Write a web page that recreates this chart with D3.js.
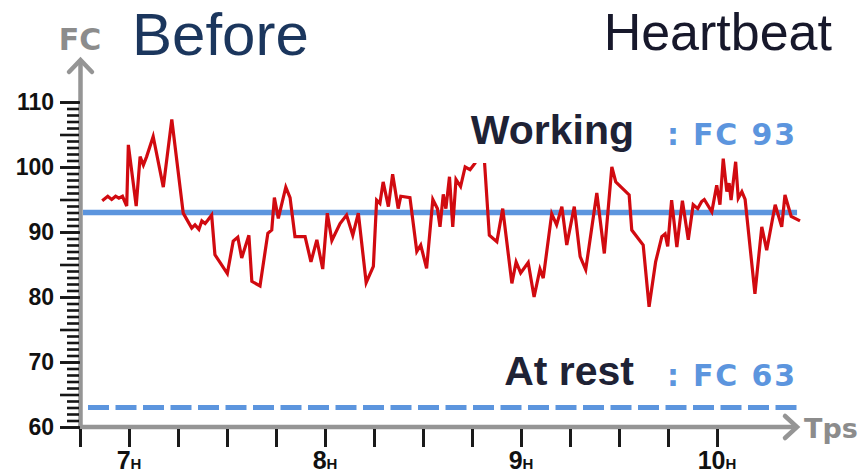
<!DOCTYPE html>
<html>
<head>
<meta charset="utf-8">
<script src="https://cdn.jsdelivr.net/npm/d3@7"></script>
<style>
  html, body { margin: 0; padding: 0; background: #fff; }
  svg { display: block; }
</style>
</head>
<body>
<svg id="chart"></svg>
<script>
// heart rate samples, time in minutes since midnight
const minutes = [411.8, 413.5, 414.7, 415.9, 416.9, 418.0, 419.3, 419.8, 422.2, 423.4, 424.4, 425.4, 427.4, 430.5, 433.1,
  436.6, 439.2, 440.2, 441.4, 442.3, 443.3, 444.1, 445.3, 446.3, 447.9, 450.1, 451.9, 453.3, 454.5, 456.7, 457.6,
  460.1, 462.5, 463.7, 464.5, 465.7, 468.0, 469.3, 470.8, 473.9, 475.7, 477.5, 479.3, 480.7, 482.1, 484.6, 486.6,
  488.5, 490.2, 492.6, 494.8, 495.8, 496.8, 497.8, 499.4, 500.7, 502.4, 503.2, 506.0, 508.1, 509.3, 511.1, 513.0,
  514.4, 515.2, 516.2, 517.0, 518.1, 519.1, 520.1, 521.5, 522.9, 524.4, 525.9, 528.4, 530.3, 532.6, 534.4, 537.2,
  538.5, 539.9, 542.2, 544.0, 545.8, 546.8, 549.4, 550.9, 552.5, 554.0, 556.3, 558.1, 559.8, 563.2, 565.5, 567.8,
  569.0, 573.1, 573.9, 577.4, 579.2, 581.2, 583.1, 584.1, 584.9, 586.1, 587.7, 589.4, 591.2, 592.7, 594.1, 595.3,
  596.1, 598.4, 599.9, 600.9, 601.9, 603.0, 603.7, 604.3, 605.7, 606.5, 607.6, 608.6, 611.6, 613.7, 615.2, 617.8,
  619.8, 620.8, 622.7, 625.4];
const fc = [94.8, 95.5, 95.0, 95.5, 95.2, 95.5, 94.0, 103.4, 94.0, 101.6, 100.3, 101.6, 104.7, 96.9, 107.3,
  92.9, 90.6, 91.1, 90.4, 91.7, 91.3, 91.8, 92.6, 86.5, 85.3, 83.6, 88.6, 89.2, 86.0, 89.5, 82.4,
  81.7, 89.8, 90.3, 95.3, 92.1, 96.9, 95.3, 89.3, 89.3, 85.4, 88.8, 84.3, 92.9, 88.7, 91.3, 92.6,
  89.5, 92.9, 82.2, 84.7, 94.9, 94.4, 97.7, 93.9, 98.9, 93.6, 95.5, 95.3, 87.0, 88.0, 84.4, 95.0,
  93.6, 90.8, 95.8, 93.6, 98.5, 90.8, 98.1, 97.0, 100.0, 99.6, 100.6, 104.0, 89.5, 88.5, 93.6, 82.1,
  85.4, 83.7, 85.3, 80.0, 84.3, 82.9, 92.8, 91.1, 93.9, 88.0, 93.9, 86.2, 84.2, 96.0, 86.7, 100.0,
  97.7, 95.7, 90.3, 88.0, 78.5, 85.4, 89.3, 89.7, 87.8, 94.9, 87.7, 94.8, 88.8, 94.2, 93.6, 94.7,
  95.0, 93.1, 97.2, 94.2, 101.3, 96.2, 97.5, 94.9, 100.8, 95.2, 96.2, 95.0, 80.5, 90.8, 87.2, 94.2,
  90.8, 95.7, 92.4, 91.7];
const workingFC = 93;
const restFC = 63;
const yLabelTicks = [60, 70, 80, 90, 100, 110];
const hourTicks = [7, 8, 9, 10];
const title = "Before";
const subtitle = "Heartbeat";

const width = 866, height = 473;
const svg = d3.select("#chart").attr("width", width).attr("height", height);

const x = d3.scaleLinear().domain([405, 625]).range([80, 798.7]);
const y = d3.scaleLinear().domain([60, 110]).range([427, 102]);

const series = minutes.map((m, i) => ({ m, v: fc[i] }));

// reference lines
svg.append("line")
  .attr("x1", 83).attr("x2", x(624.5))
  .attr("y1", y(workingFC)).attr("y2", y(workingFC))
  .attr("stroke", "#5c95de").attr("stroke-width", 5.5);

svg.append("line")
  .attr("x1", 88).attr("x2", x(624.5))
  .attr("y1", y(restFC)).attr("y2", y(restFC))
  .attr("stroke", "#5c95de").attr("stroke-width", 5)
  .attr("stroke-dasharray", "21,6.5");

// heart rate line
svg.append("path")
  .datum(series)
  .attr("fill", "none")
  .attr("stroke", "#d10a10")
  .attr("stroke-width", 3.2)
  .attr("d", d3.line().x(d => x(d.m)).y(d => y(d.v)));

// white box behind the "Working" label hides the top of the line
svg.append("rect")
  .attr("x", 458).attr("y", 95).attr("width", 190).attr("height", 68)
  .attr("fill", "#fff");

// axes with arrows
const axisColor = "#959595";
svg.append("line")
  .attr("x1", 80.5).attr("x2", 80.5).attr("y1", 429).attr("y2", 60)
  .attr("stroke", axisColor).attr("stroke-width", 4.5);
svg.append("polyline")
  .attr("points", "69,72 80.5,60 92,72")
  .attr("fill", "none").attr("stroke", axisColor).attr("stroke-width", 4.5)
  .attr("stroke-linecap", "round");
svg.append("line")
  .attr("x1", 78).attr("x2", 797).attr("y1", 427).attr("y2", 427)
  .attr("stroke", axisColor).attr("stroke-width", 4.5);
svg.append("polyline")
  .attr("points", "785,416 797,427 785,438")
  .attr("fill", "none").attr("stroke", axisColor).attr("stroke-width", 4.5)
  .attr("stroke-linecap", "round");

// y ruler: one tick per unit, longer every 5
const yRuler = svg.append("g").attr("transform", "translate(79,0)")
  .call(d3.axisLeft(y).tickValues(d3.range(60, 111)).tickSize(12).tickFormat(() => ""));
yRuler.select(".domain").remove();
yRuler.selectAll(".tick line")
  .attr("x2", d => d % 5 === 0 ? -19 : -12)
  .attr("stroke", "#161616")
  .attr("stroke-width", 2.6);

const yLabels = svg.append("g").attr("transform", "translate(80,0)")
  .call(d3.axisLeft(y).tickValues(yLabelTicks).tickSize(20).tickPadding(6));
yLabels.select(".domain").remove();
yLabels.selectAll(".tick line").attr("stroke", "#161616").attr("stroke-width", 2.6);
yLabels.selectAll(".tick text")
  .attr("fill", "#111")
  .style("font-family", "'Liberation Sans', Arial, sans-serif")
  .style("font-weight", "bold")
  .style("font-size", "23px");

// x ticks
const xTicksG = svg.append("g").attr("transform", "translate(0,429)")
  .call(d3.axisBottom(x).tickValues(d3.range(405, 601, 15)).tickSize(18).tickFormat(""));
xTicksG.select(".domain").remove();
xTicksG.selectAll(".tick line").attr("stroke", "#1a1a1a").attr("stroke-width", 3);

const hourLabels = svg.append("g")
  .selectAll("text")
  .data(hourTicks)
  .join("text")
  .attr("x", d => x(d * 60))
  .attr("y", 469)
  .attr("text-anchor", "middle")
  .attr("fill", "#111")
  .style("font-family", "'Liberation Sans', Arial, sans-serif")
  .style("font-weight", "bold");
hourLabels.append("tspan").style("font-size", "25px").text(d => d);
hourLabels.append("tspan").style("font-size", "15px").text("H");

svg.append("text")
  .attr("x", 80).attr("y", 50)
  .attr("text-anchor", "middle")
  .attr("fill", "#8c8c8c")
  .style("font-family", "'DejaVu Sans', sans-serif")
  .style("font-weight", "bold")
  .style("font-size", "30px")
  .text("FC");

svg.append("text")
  .attr("x", 804).attr("y", 438)
  .attr("fill", "#8c8c8c")
  .style("font-family", "'DejaVu Sans', sans-serif")
  .style("font-weight", "bold")
  .style("font-size", "27px")
  .text("Tps");

// titles
svg.append("text")
  .attr("x", 132).attr("y", 54.5)
  .attr("fill", "#1b365d")
  .style("font-family", "'Liberation Sans', Arial, sans-serif")
  .style("font-size", "60px")
  .text(title);

svg.append("text")
  .attr("x", 832).attr("y", 50)
  .attr("text-anchor", "end")
  .attr("fill", "#17182b")
  .style("font-family", "'Liberation Sans', Arial, sans-serif")
  .style("font-size", "52px")
  .text(subtitle);

// reference line labels
const refLabels = [
  { name: "Working", value: workingFC, y: 144 },
  { name: "At rest", value: restFC, y: 385 }
];
refLabels.forEach(d => {
  svg.append("text")
    .attr("x", 634).attr("y", d.y)
    .attr("text-anchor", "end")
    .attr("fill", "#1e2235")
    .style("font-family", "'Liberation Sans', Arial, sans-serif")
    .style("font-weight", "bold")
    .style("font-size", "41px")
    .text(d.name);
  svg.append("text")
    .attr("x", 667).attr("y", d.y + 1)
    .attr("fill", "#5c95de")
    .attr("textLength", 128)
    .attr("lengthAdjust", "spacing")
    .style("font-family", "'DejaVu Sans', sans-serif")
    .style("font-weight", "bold")
    .style("font-size", "30px")
    .text(`: FC ${d.value}`);
});
</script>
</body>
</html>
